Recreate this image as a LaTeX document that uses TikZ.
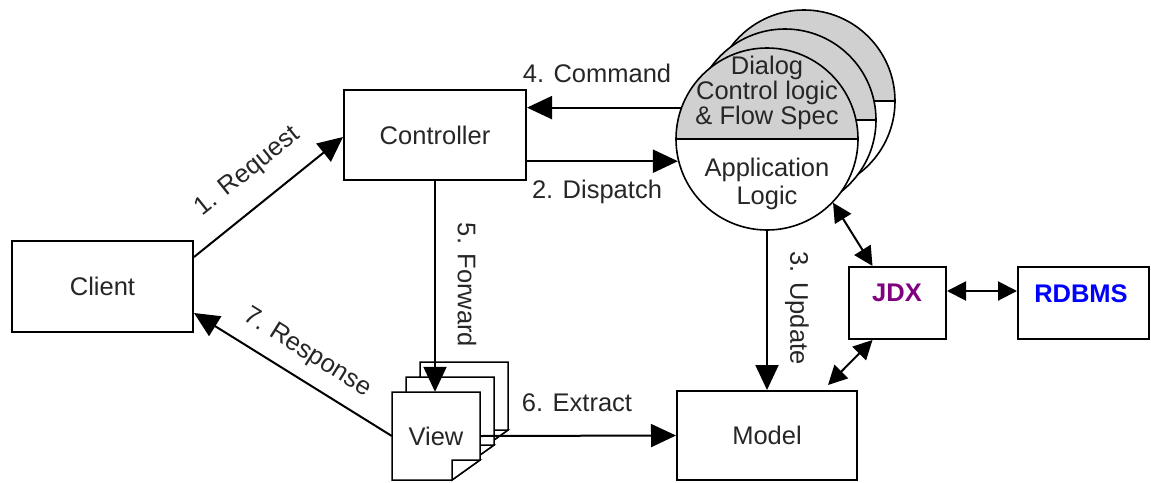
\documentclass[tikz,border=0pt]{standalone}
\usepackage{fontspec}
\setmainfont{Liberation Sans}
\usetikzlibrary{arrows.meta,calc}
\definecolor{grayfill}{RGB}{208,208,208}
\definecolor{jdxpurple}{RGB}{128,0,128}
\begin{document}
\begin{tikzpicture}[x=1pt,y=-1pt,
  font=\fontsize{25.5pt}{25pt}\selectfont, text=black!85,
  box/.style={draw=black, line width=2pt, rectangle, inner sep=0pt},
  arr/.style={line width=2pt, -{Triangle[length=25pt,width=23pt]}},
  darr/.style={line width=2pt, {Triangle[length=19pt,width=19pt]}-{Triangle[length=19pt,width=19pt]}},
  lbl/.style={inner sep=0pt},
  page/.style={draw=black, line width=1.5pt, fill=white, line join=miter},
  circ/.style={circle, draw=black, line width=1.6pt, fill=white, minimum size=182pt, inner sep=0pt,
    path picture={\fill[grayfill] (path picture bounding box.north west) rectangle (path picture bounding box.east);
      \draw[line width=1.6pt] (path picture bounding box.west) -- (path picture bounding box.east);}}]
\useasboundingbox (0,0) rectangle (1151,482);

% boxes
\node[box, minimum width=181pt, minimum height=91pt] (client) at (102.5,286.5) {Client};
\node[box, minimum width=182pt, minimum height=90pt] (ctrl) at (435,135) {Controller};
\node[box, minimum width=180pt, minimum height=89pt] (model) at (767,435.5) {Model};
\node[box, minimum width=97pt, minimum height=72pt] (jdx) at (897.5,303) {};
\node[box, minimum width=131pt, minimum height=72pt] (rdbms) at (1083.5,303) {};
\node[font=\fontsize{25.5pt}{25pt}\selectfont\bfseries, text=jdxpurple] (jdxt) at (897,293) {JDX};
\node[font=\fontsize{25.5pt}{25pt}\selectfont\bfseries, text=blue] (rdbmst) at (1081,294) {RDBMS};

% stacked circles
\node[circ] (app3) at (804,101) {};
\node[circ] (app2) at (785,120) {};
\node[circ] (app) at (767,139) {};
\node[align=center, inner sep=0pt] (dlg) at (767,93) {Dialog\\Control logic\\\& Flow Spec};
\node[align=center, inner sep=0pt, font=\fontsize{25.5pt}{28pt}\selectfont] (alg) at (767,184) {Application\\Logic};

% stacked pages
\foreach \dx/\dy in {28/-30, 14/-15, 0/0} {
  \draw[page] (392+\dx,392+\dy) -- ++(88,0) -- ++(0,68) -- ++(-28,20) -- ++(-60,0) -- cycle;
  \draw[page] (452+\dx,480+\dy) -- ++(0,-20) -- ++(28,0) -- cycle;
}
\node[minimum size=88pt, inner sep=0pt] (view) at (436,436) {View};

% connectors
\draw[arr] ([yshift=29.5pt]client.east) -- ([yshift=-2pt]ctrl.west);
\draw[arr] (app.194 -| ctrl.east) -- (app.194);
\draw[arr] (app.south) -- (model.north);
\draw[arr] (app.160) -- (app.160 -| ctrl.east);
\draw[arr] (ctrl.south) -- (ctrl.south |- view.north);
\draw[arr] (view.east) -- (model.west);
\draw[arr] (view.west) -- ([yshift=-26.5pt]client.east);
\draw[darr] (app.-44) -- ([xshift=-25pt]jdx.north);
\draw[darr] ([xshift=-25pt]jdx.south) -- ([xshift=-30pt,yshift=5pt]model.north east);
\draw[darr] ([yshift=12pt]jdx.east) -- ([yshift=12pt]rdbms.west);

% labels
\node[lbl, rotate=38.7] (l1) at (248,172) {1. Request};
\node[lbl] (l2) at (597,192) {2. Dispatch};
\node[lbl, rotate=-90] (l3) at (797,308) {3. Update};
\node[lbl] (l4) at (597,73) {4. Command};
\node[lbl, rotate=-90] (l5) at (467,285) {5. Forward};
\node[lbl] (l6) at (577,403) {6. Extract};
\node[lbl, rotate=-32] (l7) at (307,353) {7. Response};
\end{tikzpicture}
\end{document}
